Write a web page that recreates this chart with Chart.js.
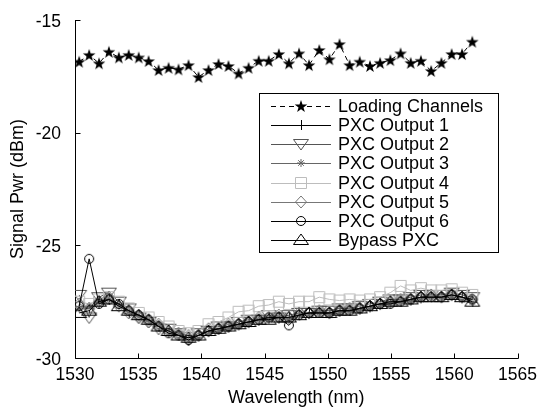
<!DOCTYPE html>
<html><head><meta charset="utf-8">
<script src="https://cdn.jsdelivr.net/npm/chart.js@4.4.0/dist/chart.umd.min.js"></script>
<style>html,body{margin:0;padding:0;background:#fff;}#c{display:block;}</style>
</head><body>
<canvas id="c" width="541" height="407" style="width:541px;height:407px"></canvas>
<script>
// ---- data ----
const wavelengths = [1530.33,1531.12,1531.90,1532.68,1533.47,1534.25,1535.04,1535.82,1536.61,1537.40,
  1538.19,1538.98,1539.77,1540.56,1541.35,1542.14,1542.94,1543.73,1544.53,1545.32,
  1546.12,1546.92,1547.72,1548.51,1549.32,1550.12,1550.92,1551.72,1552.52,1553.33,
  1554.13,1554.94,1555.75,1556.55,1557.36,1558.17,1558.98,1559.79,1560.61,1561.42];
const loadingChannels = [-16.85,-16.55,-16.92,-16.41,-16.66,-16.55,-16.66,-16.82,-17.22,-17.12,
  -17.19,-17.00,-17.53,-17.22,-16.95,-17.04,-17.37,-17.12,-16.81,-16.81,
  -16.51,-16.92,-16.48,-17.00,-16.33,-16.74,-16.07,-17.00,-16.85,-17.04,
  -16.90,-16.78,-16.48,-16.90,-16.81,-17.26,-16.90,-16.51,-16.51,-15.96];
const pxcOutput1 = [-27.7,-27.8,-27.5,-27.4,-27.6,-28.0,-28.1,-28.3,-28.6,-28.8,
  -29.0,-29.1,-29.0,-28.8,-28.7,-28.6,-28.5,-28.4,-28.3,-28.2,
  -28.2,-28.2,-28.1,-28.0,-28.0,-28.0,-27.9,-27.9,-27.8,-27.7,
  -27.6,-27.5,-27.5,-27.4,-27.3,-27.3,-27.3,-27.2,-27.3,-27.5];
const pxcOutput2 = [-27.2,-28.2,-27.3,-27.1,-27.5,-27.8,-28.2,-28.4,-28.7,-28.7,
  -28.9,-29.2,-28.9,-28.8,-28.6,-28.6,-28.4,-28.3,-28.3,-28.1,
  -28.2,-28.1,-28.0,-28.0,-27.9,-27.9,-27.8,-27.8,-27.7,-27.6,
  -27.5,-27.4,-27.4,-27.3,-27.2,-27.2,-27.2,-27.1,-27.2,-27.3];
const pxcOutput3 = [-27.8,-27.7,-27.6,-27.4,-27.7,-27.9,-28.2,-28.4,-28.6,-28.9,
  -29.0,-29.2,-29.1,-28.9,-28.8,-28.7,-28.6,-28.5,-28.3,-28.3,
  -28.2,-28.3,-28.1,-28.1,-28.0,-28.1,-28.0,-27.9,-27.9,-27.8,
  -27.7,-27.6,-27.5,-27.5,-27.4,-27.3,-27.3,-27.3,-27.4,-27.5];
const pxcOutput4 = [-27.5,-27.6,-27.4,-27.3,-27.5,-27.8,-28.0,-28.2,-28.4,-28.6,
  -28.8,-28.9,-28.8,-28.5,-28.4,-28.2,-27.95,-27.9,-27.7,-27.65,
  -27.5,-27.6,-27.5,-27.5,-27.3,-27.4,-27.45,-27.4,-27.45,-27.4,
  -27.3,-27.1,-26.8,-27.0,-26.9,-27.0,-27.0,-26.95,-27.1,-27.2];
const pxcOutput5 = [-27.6,-27.8,-27.5,-27.3,-27.7,-28.0,-28.2,-28.4,-28.5,-28.8,
  -28.9,-29.0,-29.0,-28.7,-28.7,-28.5,-28.5,-28.4,-28.2,-28.2,
  -28.1,-28.2,-28.0,-28.0,-27.9,-28.0,-27.9,-27.8,-27.8,-27.7,
  -27.6,-27.5,-27.4,-27.4,-27.3,-27.2,-27.3,-27.2,-27.3,-27.4];
const pxcOutput6 = [-27.7,-25.6,-27.6,-27.4,-27.6,-27.9,-28.1,-28.3,-28.6,-28.9,
  -29.0,-29.2,-29.0,-28.8,-28.7,-28.6,-28.5,-28.4,-28.3,-28.2,
  -28.2,-28.55,-28.1,-28.0,-28.0,-28.0,-27.9,-27.9,-27.8,-27.7,
  -27.6,-27.6,-27.5,-27.4,-27.3,-27.3,-27.3,-27.2,-27.3,-27.4];
const bypassPXC = [-28.0,-27.9,-27.5,-27.4,-27.7,-27.9,-28.1,-28.3,-28.6,-28.8,
  -29.0,-29.1,-29.0,-28.8,-28.7,-28.6,-28.5,-28.4,-28.3,-28.3,
  -28.2,-28.2,-28.1,-28.0,-28.0,-28.0,-27.9,-27.9,-27.8,-27.7,
  -27.6,-27.5,-27.5,-27.4,-27.3,-27.3,-27.3,-27.2,-27.3,-27.5];
const seriesLabels = ['Loading Channels','PXC Output 1','PXC Output 2','PXC Output 3','PXC Output 4','PXC Output 5','PXC Output 6','Bypass PXC'];
const xTicks = [1530,1535,1540,1545,1550,1555,1560,1565];
const xTickLabels = ['1530','1535','1540','1545','1550','1555','1560','1565'];
const yTicks = [-30,-25,-20,-15];
const yTickLabels = ['-30','-25','-20','-15'];
const xTitle = 'Wavelength (nm)';
const yTitle = 'Signal Pwr (dBm)';

// ---- styling ----
const FONT = '"Liberation Sans", Arial, Helvetica, sans-serif';
function marker(kind, color){
  const S=22, c=document.createElement('canvas'); c.width=S; c.height=S;
  const g=c.getContext('2d'), m=S/2;
  g.strokeStyle=color; g.fillStyle=color; g.lineWidth=1; g.beginPath();
  if(kind==='star'){
    for(let i=0;i<10;i++){const r=i%2?2.6:6.6, a=-Math.PI/2+i*Math.PI/5;
      const px=m+r*Math.cos(a), py=m+0.6+r*Math.sin(a); i?g.lineTo(px,py):g.moveTo(px,py);}
    g.closePath(); g.fill();
  } else if(kind==='plus'){
    g.moveTo(m-5,m+0.5);g.lineTo(m+5,m+0.5);g.moveTo(m+0.5,m-5);g.lineTo(m+0.5,m+5);g.stroke();
  } else if(kind==='tridown'){
    g.moveTo(m-7.5,m-4.5);g.lineTo(m+7.5,m-4.5);g.lineTo(m,m+6);g.closePath();g.stroke();
  } else if(kind==='triup'){
    g.moveTo(m-7.5,m+4.5);g.lineTo(m+7.5,m+4.5);g.lineTo(m,m-6);g.closePath();g.stroke();
  } else if(kind==='asterisk'){
    const r=4; g.moveTo(m-r,m);g.lineTo(m+r,m);g.moveTo(m,m-r);g.lineTo(m,m+r);
    g.moveTo(m-r*0.7,m-r*0.7);g.lineTo(m+r*0.7,m+r*0.7);g.moveTo(m-r*0.7,m+r*0.7);g.lineTo(m+r*0.7,m-r*0.7);g.stroke();
  } else if(kind==='square'){
    g.rect(m-5.5,m-5.5,11,11);g.stroke();
  } else if(kind==='diamond'){
    g.moveTo(m,m-6);g.lineTo(m+5.5,m);g.lineTo(m,m+6);g.lineTo(m-5.5,m);g.closePath();g.stroke();
  } else if(kind==='circle'){
    g.arc(m,m,4.5,0,Math.PI*2);g.stroke();
  }
  return c;
}
const seriesData = [loadingChannels,pxcOutput1,pxcOutput2,pxcOutput3,pxcOutput4,pxcOutput5,pxcOutput6,bypassPXC];
const seriesColors = ['#000','#000','#555','#666','#bdbdbd','#777','#000','#000'];
const seriesMarkers = ['star','plus','tridown','asterisk','square','diamond','circle','triup'];
const seriesDash = [[5,4],[],[],[],[],[],[],[]];

const datasets = seriesData.map((d,i)=>({
  label: seriesLabels[i],
  data: wavelengths.map((w,k)=>({x:w,y:d[k]})),
  borderColor: seriesColors[i], borderWidth: 1, borderDash: seriesDash[i],
  pointStyle: marker(seriesMarkers[i], seriesColors[i]),
  pointRadius: 4, pointHoverRadius: 4, backgroundColor: 'transparent',
  fill: false, tension: 0, order: 7 - i
}));

const axesPlugin = {
  id: 'axesPlugin',
  beforeDatasetsDraw(chart){
    const {ctx, scales:{x,y}, chartArea:a} = chart;
    ctx.save(); ctx.strokeStyle='#000'; ctx.lineWidth=1; ctx.beginPath();
    const L = Math.round(a.left)+0.5, B = Math.round(a.bottom)+0.5;
    ctx.moveTo(L, Math.round(a.top)); ctx.lineTo(L, B);
    ctx.lineTo(Math.round(a.right)+0.5, B);
    x.ticks.forEach(t=>{const px=Math.round(x.getPixelForValue(t.value))+0.5; ctx.moveTo(px,B); ctx.lineTo(px,B-5);});
    y.ticks.forEach(t=>{const py=Math.round(y.getPixelForValue(t.value))+0.5; ctx.moveTo(L,py); ctx.lineTo(L+5,py);});
    ctx.stroke(); ctx.restore();
  }
};
const legendPlugin = {
  id: 'legendPlugin',
  afterDatasetsDraw(chart){
    const ctx = chart.ctx;
    const bx=259.5, by=93.5, bw=239, bh=159;
    ctx.save();
    ctx.fillStyle='#fff'; ctx.fillRect(bx,by,bw,bh);
    ctx.strokeStyle='#000'; ctx.lineWidth=1; ctx.strokeRect(bx,by,bw,bh);
    ctx.font = '18px ' + FONT; ctx.textBaseline='middle'; ctx.textAlign='left';
    chart.data.datasets.forEach((ds,i)=>{
      const yy = Math.round(106 + i*19.15) + 0.5;
      ctx.strokeStyle = ds.borderColor; ctx.setLineDash(ds.borderDash||[]);
      ctx.beginPath(); ctx.moveTo(271,yy); ctx.lineTo(331,yy); ctx.stroke();
      ctx.setLineDash([]);
      const img = ds.pointStyle;
      ctx.drawImage(img, 301 - img.width/2, yy - 0.5 - img.height/2);
      ctx.fillStyle='#000'; ctx.fillText(ds.label, 338, yy + 1);
    });
    ctx.restore();
  }
};

new Chart(document.getElementById('c'), {
  type: 'line',
  data: { datasets },
  options: {
    responsive: false, animation: false, devicePixelRatio: 1,
    layout: { padding: { left: 0, right: 21, top: 20, bottom: 0 } },
    plugins: { legend: { display: false }, tooltip: { enabled: false } },
    scales: {
      x: {
        type: 'linear', position: 'bottom', min: 1530, max: 1565,
        afterBuildTicks: s => { s.ticks = xTicks.map(v=>({value:v})); },
        afterFit: s => { s.height = 49; },
        grid: { display: false }, border: { display: false },
        ticks: { color: '#000', padding: 4, maxRotation: 0, autoSkip: false,
                 callback: (v) => xTickLabels[xTicks.indexOf(v)],
                 font: { family: FONT, size: 17.5, lineHeight: 0.6 } },
        title: { display: true, text: xTitle, color: '#000', padding: 0,
                 font: { family: FONT, size: 18, lineHeight: 1 } }
      },
      y: {
        type: 'linear', min: -30, max: -15,
        afterBuildTicks: s => { s.ticks = yTicks.map(v=>({value:v})); },
        afterFit: s => { s.width = 75; },
        grid: { display: false }, border: { display: false },
        ticks: { color: '#000', padding: 6, labelOffset: 2, callback: (v) => yTickLabels[yTicks.indexOf(v)],
                 font: { family: FONT, size: 17.5 } },
        title: { display: true, text: yTitle, color: '#000', padding: { top: 9, bottom: 0 },
                 font: { family: FONT, size: 18, lineHeight: 1 } }
      }
    }
  },
  plugins: [axesPlugin, legendPlugin]
});
</script>
</body></html>
